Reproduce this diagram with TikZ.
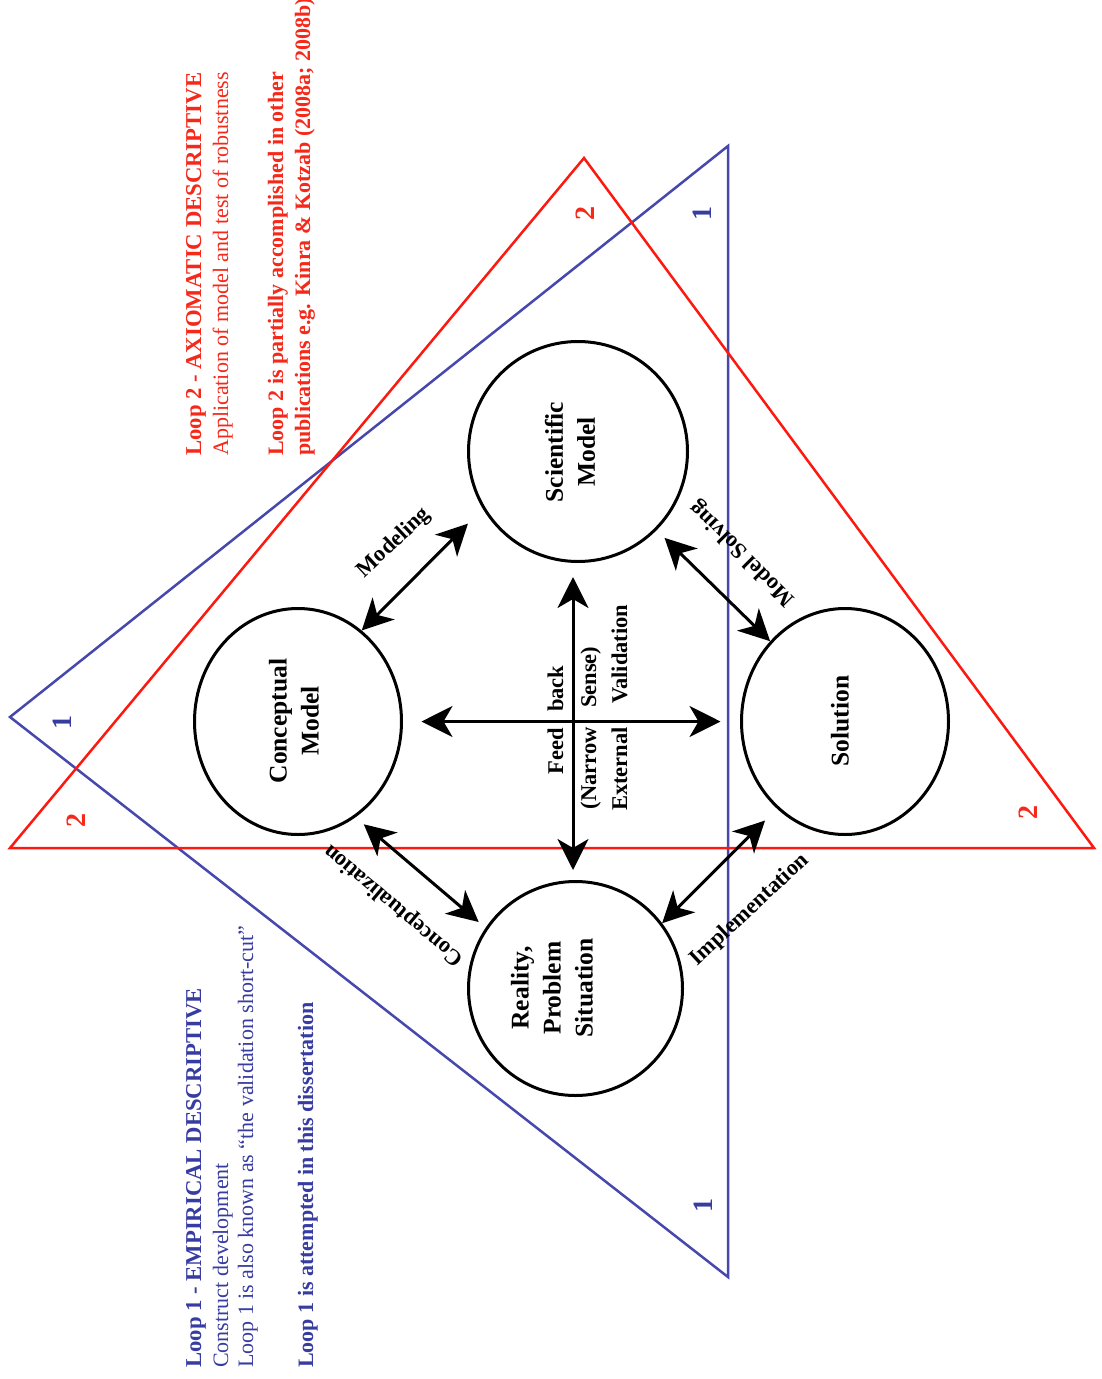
\documentclass[tikz,border=0pt]{standalone}
\usepackage{fontspec}
\setmainfont{Liberation Serif}
\usetikzlibrary{arrows.meta,shapes.geometric}
\definecolor{loopred}{RGB}{245,40,25}
\definecolor{trired}{RGB}{252,25,15}
\definecolor{loopblue}{RGB}{55,60,160}
\definecolor{triblue}{RGB}{70,72,172}
\begin{document}
\begin{tikzpicture}[x=1pt,y=-1pt,
 bubble/.style={ellipse, draw, line width=3pt, inner sep=0pt},
 tri/.style={line width=2.5pt, line join=miter},
 dbl/.style={arrows={Stealth[length=31pt,width=31pt,inset=9pt]-Stealth[length=31pt,width=31pt,inset=9pt]}, line width=3pt},
 ctext/.style={font=\fontsize{25.5}{32}\selectfont\bfseries, rotate=90, align=center, inner sep=0pt},
 alabel/.style={font=\fontsize{22.5}{27}\selectfont\bfseries, inner sep=0pt},
 crosstxt/.style={font=\fontsize{22.5}{27}\selectfont\bfseries, rotate=90, inner sep=0pt},
 sidetxt/.style={font=\fontsize{22}{27}\selectfont, rotate=90, inner sep=0pt, anchor=base west},
 sidebold/.style={font=\fontsize{22}{27}\selectfont\bfseries, rotate=90, inner sep=0pt, anchor=base west},
 sidehead/.style={font=\fontsize{22.7}{27}\selectfont\bfseries, rotate=90, inner sep=0pt, anchor=base west},
 numtxt/.style={font=\fontsize{28}{32}\selectfont\bfseries, rotate=90, inner sep=0pt},
]
\useasboundingbox (0,0) rectangle (1102,1379);
% triangles
\coordinate (b1) at (10,717);
\coordinate (b2) at (728,146);
\coordinate (b3) at (728,1277);
\coordinate (r1) at (584,158);
\coordinate (r2) at (10,848);
\coordinate (r3) at (1094,848);
\draw[tri, triblue] (b1) -- (b2) -- (b3) -- cycle;
\draw[tri, trired] (r1) -- (r2) -- (r3) -- cycle;
% circles
\node[bubble, minimum width=219pt, minimum height=220pt] (sci) at (578,451.5) {};
\node[bubble, minimum width=207pt, minimum height=226pt] (conc) at (298,721.5) {};
\node[bubble, minimum width=207pt, minimum height=226pt] (sol) at (845,721.5) {};
\node[bubble, minimum width=214pt, minimum height=214pt] (real) at (575.5,988.5) {};
\node[ctext] (scit) at (570,452) {Scientific\\Model};
\node[ctext] (conct) at (294,721) {Conceptual\\Model};
\node[ctext] (solt) at (840,721) {Solution};
\node[ctext] (realt) at (552,988) {Reality,\\Problem\\Situation};
% arrows
\draw[dbl, shorten >=21pt] (conc.55.3) -- (sci.211.5);
\draw[dbl, shorten <=11pt] (sci.315.7) -- (sol.133);
\draw[dbl, shorten <=10.8pt, shorten >=9pt] (conc.301.9) -- (real.146.7);
\draw[dbl, shorten >=16.8pt] (real.37.1) -- (sol.232);
\draw[dbl, shorten <=18.5pt, shorten >=19.5pt] (conc.east) -- (sol.west);
\draw[dbl, shorten <=14pt, shorten >=10pt] ([xshift=-5pt]sci.south) -- ([xshift=-2.5pt]real.north);
% arrow labels
\node[alabel, rotate=43] (lmod) at (394,543) {Modeling};
\node[alabel, rotate=135] (lsol) at (743,553) {Model Solving};
\node[alabel, rotate=140] (lcon) at (394,905) {Conceptualization};
\node[alabel, rotate=43] (limp) at (750,910) {Implementation};
% cross labels
\node[crosstxt, anchor=base east] (feed) at (563,728) {Feed};
\node[crosstxt, anchor=base west] (back) at (563,712) {back};
\node[crosstxt, anchor=base east] (narrow) at (596,727) {(Narrow};
\node[crosstxt, anchor=base west] (sense) at (596,708) {Sense)};
\node[crosstxt, anchor=base east] (ext) at (627,727) {External};
\node[crosstxt, anchor=base west] (valid) at (627,704) {Validation};
% numbers
\node[numtxt, loopblue] (n1a) at (62,722) {1};
\node[numtxt, loopblue] (n1b) at (702,213) {1};
\node[numtxt, loopblue] (n1c) at (703,1205) {1};
\node[numtxt, loopred] (n2a) at (76,820) {2};
\node[numtxt, loopred] (n2b) at (585,213) {2};
\node[numtxt, loopred] (n2c) at (1028,812) {2};
% side texts
\node[sidehead, loopred] (t21) at (201,456) {Loop 2 - AXIOMATIC DESCRIPTIVE};
\node[sidetxt, loopred] (t22) at (228,456) {Application of model and test of robustness};
\node[sidebold, loopred] (t23) at (283,456) {Loop 2 is partially accomplished in other};
\node[sidebold, loopred] (t24) at (310,456) {publications e.g. Kinra \& Kotzab (2008a; 2008b)};
\node[sidehead, loopblue] (t11) at (201,1368) {Loop 1 - EMPIRICAL DESCRIPTIVE};
\node[sidetxt, loopblue] (t12) at (228,1368) {Construct development};
\node[sidetxt, loopblue] (t13) at (253,1368) {Loop 1 is also known as “the validation short-cut”};
\node[sidebold, loopblue] (t14) at (313,1368) {Loop 1 is attempted in this dissertation};
\end{tikzpicture}
\end{document}
